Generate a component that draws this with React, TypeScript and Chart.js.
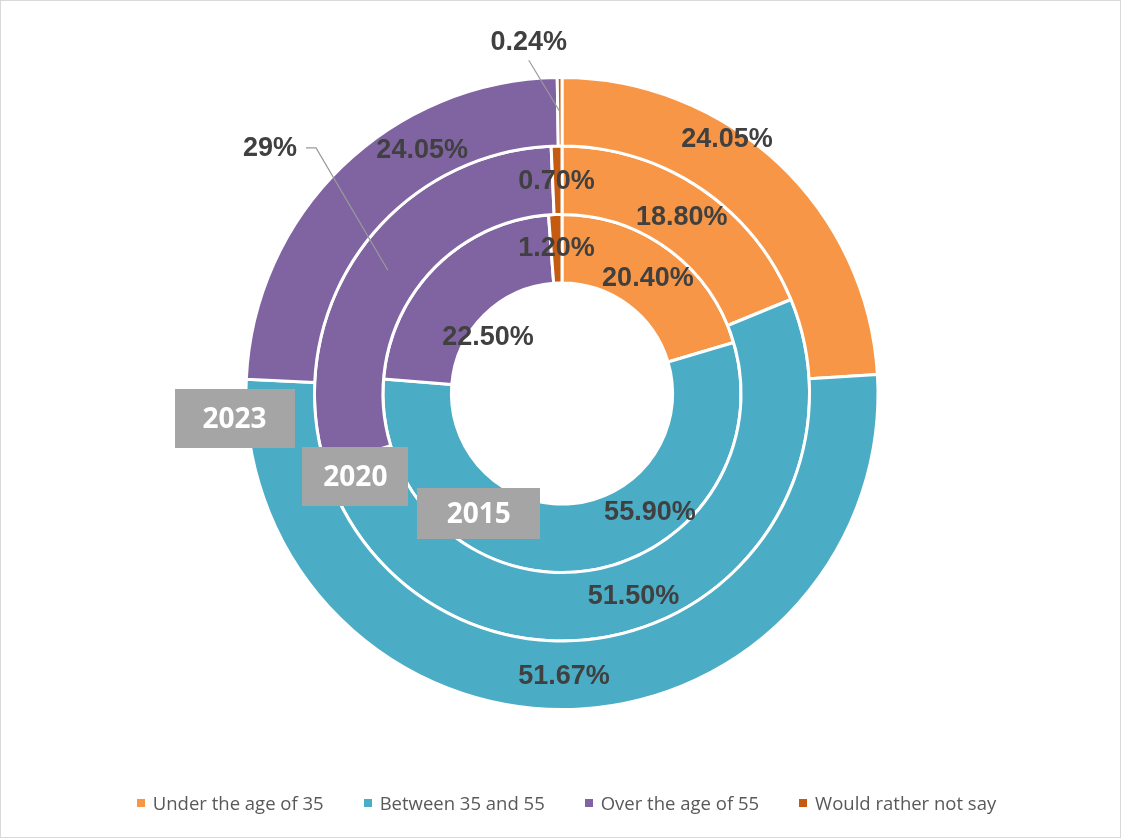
import React, { useEffect, useRef } from "react";
import { Chart, registerables } from "chart.js";

Chart.register(...registerables);

// ---- data ----
const categories = ["Under the age of 35", "Between 35 and 55", "Over the age of 55", "Would rather not say"];
const years = ["2023", "2020", "2015"];
const values2023 = [24.05, 51.67, 24.05, 0.24];
const values2020 = [18.8, 51.5, 29, 0.7];
const values2015 = [20.4, 55.9, 22.5, 1.2];
const seriesValues = [values2023, values2020, values2015];

// ---- styles ----
const colors = ["#F79646", "#4BACC6", "#8064A2", "#C55A11"];
const labelFont = "bold 27px 'Liberation Sans', Arial, sans-serif";
const labelColor = "#404040";
const leaderColor = "#9A9A9A";
// label placement: polar position (deg clockwise from top, radius as fraction of outer radius)
const labelPlacement = [
  [
    { a: 33.0, r: 0.963 },
    { a: 179.6, r: 0.9 },
    { a: 330.1, r: 0.892 },
    { a: 354.6, r: 1.122, leader: "below" },
  ],
  [
    { a: 34.2, r: 0.677 },
    { a: 160.6, r: 0.684 },
    { a: 309.95, r: 1.211, leader: "right" },
    { a: 358.5, r: 0.673 },
  ],
  [
    { a: 36.7, r: 0.457 },
    { a: 143.6, r: 0.471 },
    { a: 306.9, r: 0.294 },
    { a: 357.8, r: 0.461 },
  ],
];
// year boxes: offset of centre from chart centre as fraction of outer radius, box size in px
const yearBoxes = [
  { dx: -1.041, dy: 0.079, w: 120, h: 59 },
  { dx: -0.657, dy: 0.263, w: 106, h: 59 },
  { dx: -0.265, dy: 0.381, w: 123, h: 51 },
];

function fmt(v: number) {
  return Number.isInteger(v) ? `${v}%` : `${v.toFixed(2)}%`;
}

const overlayPlugin = {
  id: "overlay",
  afterDatasetsDraw(chart: any) {
    const ctx = chart.ctx as CanvasRenderingContext2D;
    const meta0 = chart.getDatasetMeta(0);
    const a0 = meta0.data[0] as any;
    if (!a0) return;
    const cx = a0.x;
    const cy = a0.y;
    const R = a0.outerRadius - 1.5;

    // year boxes
    ctx.save();
    years.forEach((y, i) => {
      const b = yearBoxes[i];
      const bx = cx + b.dx * R;
      const by = cy + b.dy * R;
      ctx.fillStyle = "#A5A5A5";
      ctx.fillRect(Math.round(bx - b.w / 2), Math.round(by - b.h / 2), b.w, b.h);
      ctx.fillStyle = "#FFFFFF";
      ctx.font = "bold 28px 'Open Sans', sans-serif";
      ctx.textAlign = "center";
      ctx.textBaseline = "middle";
      ctx.fillText(y, bx, by + 2);
    });
    ctx.restore();

    // value labels
    ctx.save();
    ctx.font = labelFont;
    ctx.textAlign = "center";
    ctx.textBaseline = "middle";
    seriesValues.forEach((vals, ds) => {
      const meta = chart.getDatasetMeta(ds);
      vals.forEach((v, idx) => {
        const p = labelPlacement[ds][idx];
        const ang = (p.a * Math.PI) / 180;
        const lx = cx + Math.sin(ang) * p.r * R;
        const ly = cy - Math.cos(ang) * p.r * R;
        const text = fmt(v);
        if (p.leader) {
          const arc = meta.data[idx] as any;
          const t = arc.tooltipPosition();
          ctx.strokeStyle = leaderColor;
          ctx.lineWidth = 1.2;
          ctx.beginPath();
          if (p.leader === "below") {
            ctx.moveTo(lx, ly + 18);
            ctx.lineTo(t.x, t.y);
          } else {
            const w = ctx.measureText(text).width;
            const sx = lx + w / 2 + 9;
            ctx.moveTo(sx, ly - 1);
            ctx.lineTo(sx + 10, ly - 1);
            ctx.lineTo(t.x, t.y);
          }
          ctx.stroke();
        }
        ctx.fillStyle = labelColor;
        ctx.fillText(text, lx, ly);
      });
    });
    ctx.restore();
  },
};

export default function App() {
  const canvasRef = useRef<HTMLCanvasElement | null>(null);

  useEffect(() => {
    document.body.style.margin = "0";
    const canvas = canvasRef.current;
    if (!canvas) return;
    const chart = new Chart(canvas, {
      type: "doughnut",
      data: {
        labels: categories,
        datasets: years.map((y, i) => ({
          label: y,
          data: seriesValues[i],
          backgroundColor: colors,
          borderColor: "#FFFFFF",
          borderWidth: 3,
          hoverOffset: 0,
        })),
      },
      options: {
        responsive: false,
        devicePixelRatio: 1,
        animation: false,
        cutout: "35%",
        layout: { padding: { top: 75, bottom: 126, left: 3, right: 0 } },
        plugins: {
          legend: { display: false },
          tooltip: { enabled: false },
        },
      },
      plugins: [overlayPlugin],
    });
    return () => chart.destroy();
  }, []);

  return (
    <div
      style={{
        position: "relative",
        width: 1121,
        height: 838,
        border: "1px solid #D9D9D9",
        boxSizing: "border-box",
        background: "#FFFFFF",
        overflow: "hidden",
      }}
    >
      <canvas ref={canvasRef} width={1119} height={836} style={{ display: "block" }} />
      <div
        style={{
          position: "absolute",
          top: 790,
          left: 0,
          width: "100%",
          display: "flex",
          justifyContent: "center",
          gap: 40,
          fontFamily: "'Open Sans', sans-serif",
          fontSize: 18.5,
          lineHeight: "24px",
          color: "#595959",
          transform: "translateX(6px)",
        }}
      >
        {categories.map((c, i) => (
          <div key={c} style={{ display: "flex", alignItems: "center" }}>
            <span style={{ width: 8, height: 8, background: colors[i], marginRight: 8, display: "inline-block" }} />
            <span>{c}</span>
          </div>
        ))}
      </div>
    </div>
  );
}
